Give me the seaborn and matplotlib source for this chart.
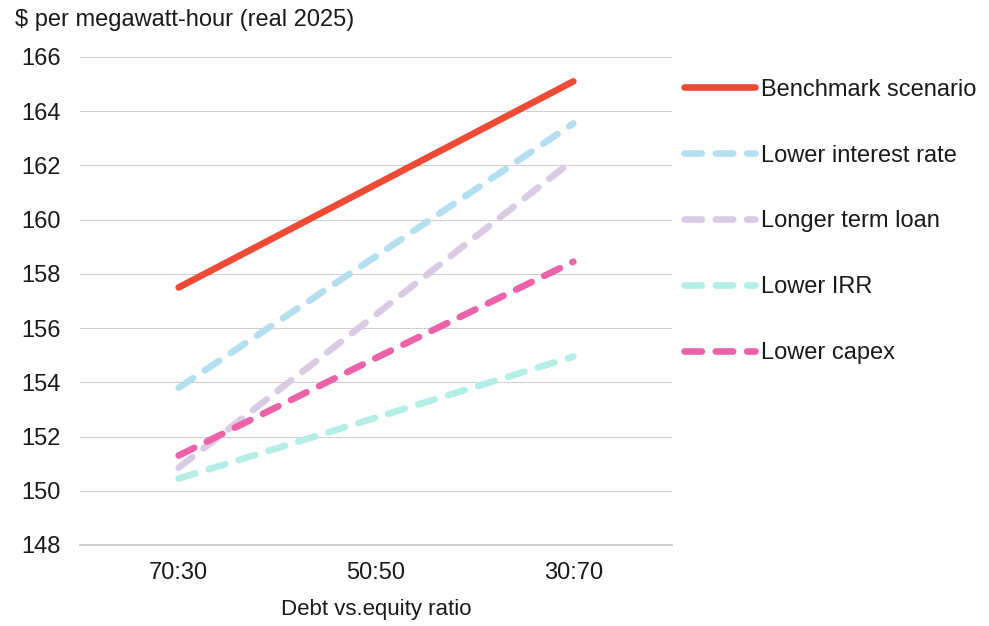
import matplotlib
matplotlib.use("Agg")
import matplotlib.pyplot as plt
import seaborn as sns
import pandas as pd

# Levelized cost by debt:equity ratio for each financing scenario
ratios = ["70:30", "50:50", "30:70"]
benchmark = [157.5, 161.3, 165.1]
lower_interest = [153.8, 158.65, 163.55]
longer_term = [150.85, 156.5, 162.2]
lower_irr = [150.45, 152.7, 154.95]
lower_capex = [151.3, 154.9, 158.45]

scenarios = ["Benchmark scenario", "Lower interest rate", "Longer term loan",
             "Lower IRR", "Lower capex"]
series = [benchmark, lower_interest, longer_term, lower_irr, lower_capex]
colors = ["#EE4B37", "#B3DFF1", "#DACBE5", "#B3EFE6", "#EB62A8"]

y_ticks = [148, 150, 152, 154, 156, 158, 160, 162, 164, 166]

df = pd.DataFrame(
    [(r, v, s) for s, vals in zip(scenarios, series) for r, v in zip(ratios, vals)],
    columns=["ratio", "value", "scenario"],
)

sns.set_theme(style="white")
plt.rcParams["font.family"] = ["Liberation Sans", "DejaVu Sans"]
plt.rcParams["lines.dash_capstyle"] = "round"
plt.rcParams["lines.solid_capstyle"] = "round"

fig = plt.figure(figsize=(9.89, 6.26), dpi=100)
ax = fig.add_axes([80 / 989, 1 - 545 / 626, (672 - 80) / 989, (545 - 57) / 626])

dash_styles = {s: "" for s in scenarios}
for s in scenarios[1:]:
    dash_styles[s] = (2.6, 2.1)

sns.lineplot(
    data=df, x="ratio", y="value", hue="scenario", style="scenario",
    hue_order=scenarios, style_order=scenarios,
    palette=dict(zip(scenarios, colors)), dashes=dash_styles,
    linewidth=4.8, sort=False, ax=ax, legend=False,
)

ax.set_xlim(-0.5, 2.5)
ax.set_ylim(148, 166)
ax.set_yticks(y_ticks)
ax.set_yticklabels([str(t) for t in y_ticks])

for t in y_ticks[1:]:
    ax.axhline(t, color="#C4C4C4", linewidth=0.8, linestyle=(0, (1.2, 1.2)), zorder=0)

for side in ["left", "right", "top"]:
    ax.spines[side].set_visible(False)
ax.spines["bottom"].set_color("#CCCCCC")
ax.spines["bottom"].set_linewidth(1.3)

ax.tick_params(axis="both", length=0, labelsize=17, colors="#1a1a1a")
ax.tick_params(axis="y", pad=14)
ax.tick_params(axis="x", pad=12)
ax.set_ylabel("")
ax.set_xlabel("Debt vs.equity ratio", fontsize=16, color="#1a1a1a", labelpad=11)

fig.text(15 / 989, 1 - 20 / 626, "$ per megawatt-hour (real 2025)", fontsize=17,
         color="#1a1a1a", ha="left", va="center")

handles = ax.lines[:len(scenarios)]
leg = ax.legend(
    handles, scenarios, loc="upper left", bbox_to_anchor=(1.005, 0.975),
    frameon=False, fontsize=17, handlelength=3.0, handletextpad=0.25,
    labelspacing=1.86, borderaxespad=0,
)
for t in leg.get_texts():
    t.set_color("#1a1a1a")

fig.savefig("out.png", dpi=100)
